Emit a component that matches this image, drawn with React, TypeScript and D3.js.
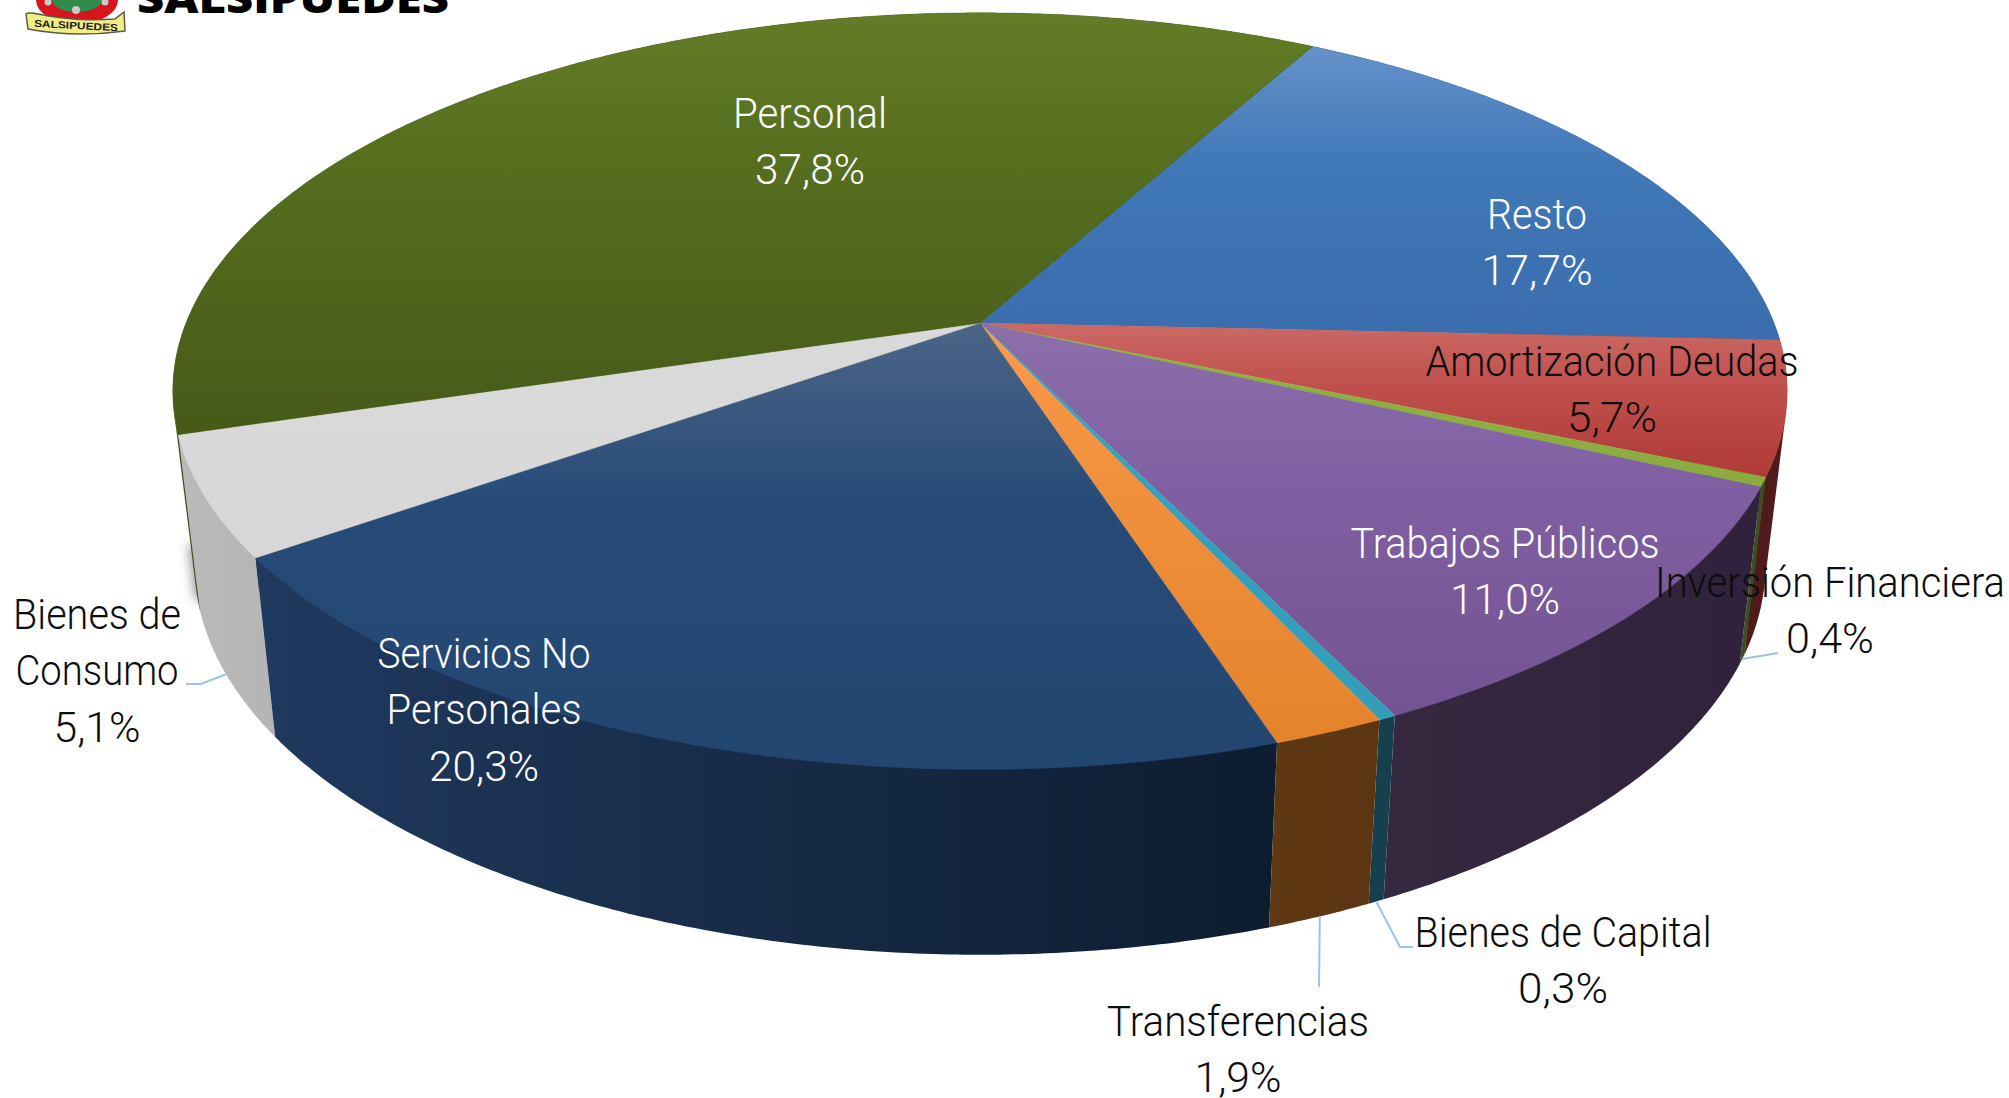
import React from "react";
import * as d3 from "d3";

// ---- data (clockwise from the Resto / Personal boundary)
const categories = ["Resto", "Amortización Deudas", "Inversión Financiera", "Trabajos Públicos", "Bienes de Capital", "Transferencias", "Servicios No Personales", "Bienes de Consumo", "Personal"];
const shares = [17.7, 5.7, 0.4, 11.0, 0.3, 1.9, 20.3, 5.1, 37.8];
const shareLabels = ["17,7%", "5,7%", "0,4%", "11,0%", "0,3%", "1,9%", "20,3%", "5,1%", "37,8%"];

// ---- colours
const topLight = ["#6592ca", "#cb6a65", "#8fb443", "#8c6fab", "#3aa6c2", "#fa9a4b", "#4c6586", "#d9d9d9", "#627c27"];
const topMid = ["#4078b8", "#c0504d", "#8db040", "#8060a2", "#36a2bd", "#f0903c", "#274b78", "#d9d9d9", "#546d1e"];
const topDark = ["#3a6dad", "#b03a36", "#8aac3e", "#735393", "#349cb6", "#e5832c", "#234670", "#d7d7d7", "#465a18"];
const wallLeft = ["#33507c", "#4e1a1a", "#3c4f20", "#36283f", "#17404e", "#5e3713", "#20395e", "#bababa", "#3d4f1a"];
const wallRight = ["#33507c", "#4e1a1a", "#3c4f20", "#30223c", "#17404e", "#5c3612", "#0d1d30", "#b5b5b5", "#3d4f1a"];

// ---- label placement (separate from the data)
const labelLines: string[][] = [["Resto"], ["Amortización Deudas"], ["Inversión Financiera"], ["Trabajos Públicos"], ["Bienes de Capital"], ["Transferencias"], ["Servicios No", "Personales"], ["Bienes de", "Consumo"], ["Personal"]];
const labelCenterX = [1537, 1612, 1830, 1505, 1563, 1238, 484, 97, 810];
const labelFirstBaseline = [229, 376, 597, 558, 947, 1036, 668, 629, 128];
const labelWidths: number[][] = [[100, 111], [373, 90], [350, 88], [309, 110], [297, 90], [262, 87], [213, 195, 110], [168, 163, 87], [154, 110]];
const labelColors = ["#ffffff", "#0d0d0d", "#0d0d0d", "#ffffff", "#0d0d0d", "#0d0d0d", "#ffffff", "#0d0d0d", "#ffffff"];
const lineStep = 56.4;
const leaderPoints: ([number, number][] | null)[] = [null, null, [[1778, 653]], null, [[1400, 947], [1413, 947]], [[1319, 987]], null, [[201, 684], [186, 684]], null];

// ---- perspective geometry of the disc
const cx = 980, cy = 323;
const a = 794, b = 366, p = 0.18;
const lowCy = 495, lowSx = 0.973, lowSy = 1.03;
const deg = Math.PI / 180;

const topRim = (t: number): [number, number] => {
  const x = Math.sin(t), y = -Math.cos(t), f = 1 / (1 - p * y);
  return [cx + a * x * f, cy + b * y * f];
};
const lowRim = (t: number): [number, number] => {
  const [x, y] = topRim(t);
  return [cx + lowSx * (x - cx), lowCy + lowSy * (y - cy)];
};

const pie = d3.pie<number>().sort(null).value((d) => d).startAngle(29 * deg).endAngle((29 + 360) * deg);
const arcs = pie(shares);
const closed = d3.line().curve(d3.curveLinearClosed);
const open = d3.line();

const samples = (s: number, e: number) => {
  const n = Math.max(2, Math.ceil((e - s) / (0.5 * deg)));
  return d3.range(n + 1).map((i) => s + ((e - s) * i) / n);
};

export default function App() {
  const ts = arcs.map((d) => samples(d.startAngle, d.endAngle));
  const wallOrder = [8, 0, 1, 2, 7, 6, 3, 4, 5];
  const personalEnd = arcs[8].startAngle;
  const edgeA = topRim(personalEnd), edgeB = lowRim(personalEnd);
  const shadowLine: [number, number][] = [
    [(edgeA[0] + edgeB[0]) / 2 + 6, (edgeA[1] + edgeB[1]) / 2 + 22],
    [edgeB[0] + 2, edgeB[1] - 10],
  ];
  return (
    <svg width={2009} height={1098} viewBox="0 0 2009 1098" style={{ position: "absolute", left: 0, top: 0, background: "#fff" }}>
      <defs>
        <filter id="soft" filterUnits="userSpaceOnUse" x="120" y="440" width="160" height="240">
          <feGaussianBlur stdDeviation="6" />
        </filter>
        {arcs.map((_, i) => (
          <linearGradient key={i} id={`top${i}`} x1="0" y1="0" x2="0" y2="1">
            <stop offset="0" stopColor={topLight[i]} />
            <stop offset="0.4" stopColor={topMid[i]} />
            <stop offset="1" stopColor={topDark[i]} />
          </linearGradient>
        ))}
        {arcs.map((_, i) => (
          <linearGradient key={i} id={`wall${i}`} x1="0" y1="0" x2="1" y2="0">
            <stop offset="0" stopColor={wallLeft[i]} />
            <stop offset="1" stopColor={wallRight[i]} />
          </linearGradient>
        ))}
      </defs>

      <g id="logo">
        <path d="M33 0 A44 44 0 0 0 121 0 Z" fill="#ffffff" />
        <path d="M36 0 A41 24 0 0 0 118 0 Z" fill="#d8151c" />
        <path d="M52 0 A25 12 0 0 0 102 0 Z" fill="#2f8c4a" />
        <circle cx="48" cy="2" r="3.5" fill="#c9c9c9" />
        <circle cx="76" cy="10" r="4" fill="#c9c9c9" />
        <circle cx="105" cy="2" r="3.5" fill="#c9c9c9" />
        <path d="M26 14 Q28 12 38 14 Q75 22 115 19 L124 12 L125 31 Q75 38 28 29 Z" fill="#f1ee86" stroke="#5b5b4a" strokeWidth="1.5" />
        <text x="76" y="29" textAnchor="middle" fontFamily="'Liberation Sans'" fontWeight="700" fontSize="10" textLength="84" lengthAdjust="spacingAndGlyphs" transform="rotate(3 76 26)" fill="#222">SALSIPUEDES</text>
        <text x="137" y="13" fontFamily="'Open Sans'" fontWeight="800" fontSize="40" textLength="312" lengthAdjust="spacingAndGlyphs" fill="#000">SALSIPUEDES</text>
      </g>

      <path d={open(shadowLine)!} stroke="#3c3c3c" strokeWidth="12" fill="none" filter="url(#soft)" opacity="0.6" />

      {wallOrder.map((i) => {
        const hull = d3.polygonHull([...ts[i].map(topRim), ...ts[i].map(lowRim)])!;
        return <path key={i} d={closed(hull)!} fill={`url(#wall${i})`} />;
      })}

      {arcs.map((_, i) => (
        <path
          key={i}
          d={closed([[cx, cy], ...ts[i].map(topRim)] as [number, number][])!}
          fill={`url(#top${i})`}
          stroke={topMid[i]}
          strokeWidth="0.4"
        />
      ))}

      {leaderPoints.map((pts, i) =>
        pts ? (
          <path
            key={i}
            d={open([lowRim((arcs[i].startAngle + arcs[i].endAngle) / 2), ...pts])!}
            fill="none"
            stroke="#9cc2ea"
            strokeWidth="2"
          />
        ) : null
      )}

      {categories.map((c, i) => {
        const lines = [...labelLines[i], shareLabels[i]];
        return (
          <g key={c} data-name={c}>
            {lines.map((t, j) => (
              <text
                key={j}
                x={labelCenterX[i]}
                y={labelFirstBaseline[i] + j * lineStep}
                textAnchor="middle"
                fontFamily="Roboto"
                fontWeight="300"
                fontSize="42"
                fill={labelColors[i]}
                textLength={labelWidths[i][j]}
                lengthAdjust="spacingAndGlyphs"
              >
                {t}
              </text>
            ))}
          </g>
        );
      })}
    </svg>
  );
}
